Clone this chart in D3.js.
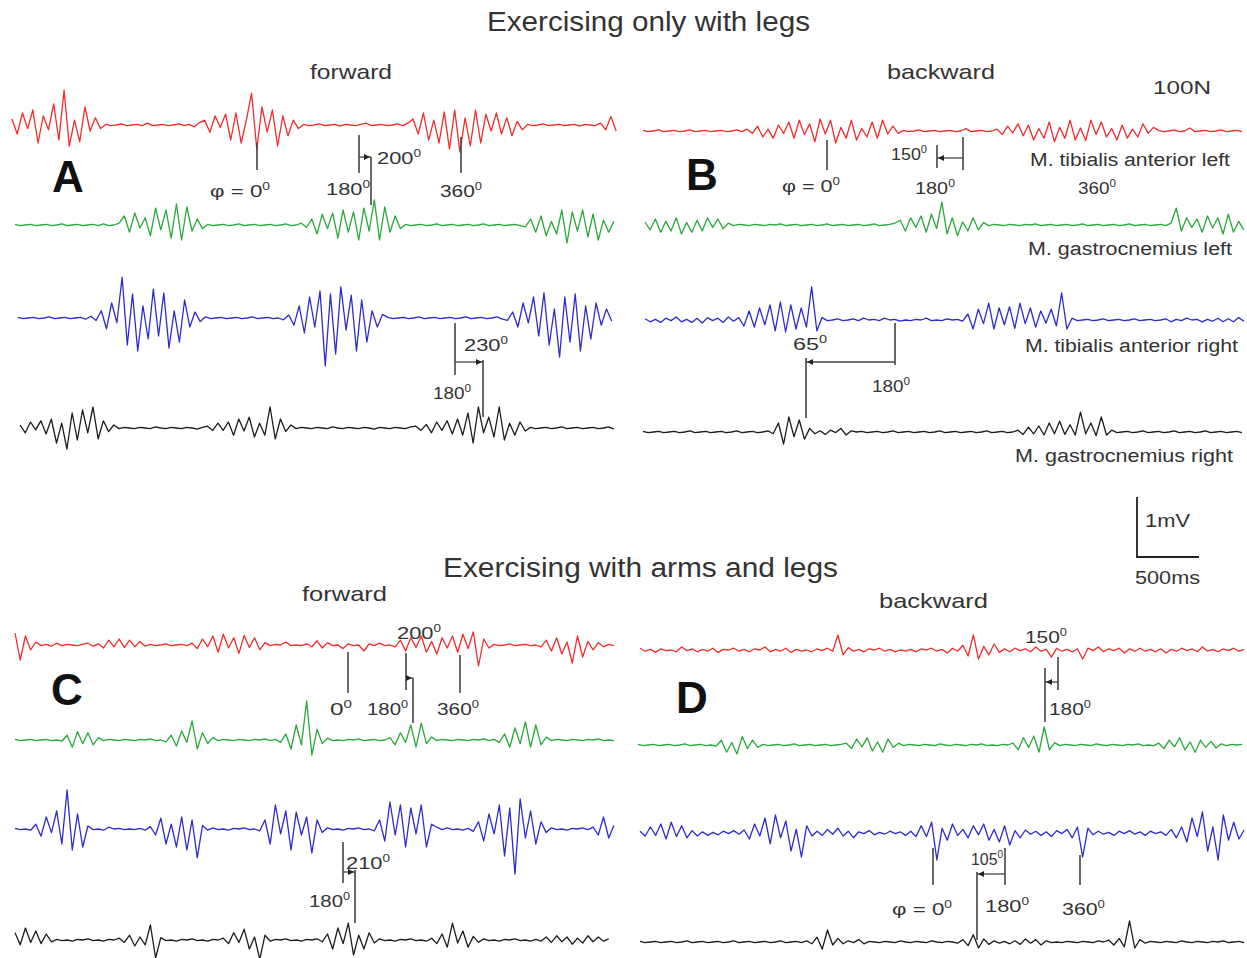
<!DOCTYPE html>
<html>
<head>
<meta charset="utf-8">
<script src="https://cdn.jsdelivr.net/npm/d3@7"></script>
<style>
  body { margin: 0; background: #fff; }
  svg { display: block; font-family: "Liberation Sans", Arial, sans-serif; }
</style>
</head>
<body>
<div id="chart"></div>
<script>
// -------- EMG data ---------- //
// amplitudes in 1/100 mV, one sample every dtMs
var dtMs = 42;

var muscles = [
  "M. tibialis anterior left",
  "M. gastrocnemius left",
  "M. tibialis anterior right",
  "M. gastrocnemius right",
];
var muscleColors = ["#f22b2b", "#28a83a", "#2b2bd0", "#1c1c1c"];

// A: legs only, forward
var legsFwdTibL = [10,-15,20,-6,25,-30,15,-8,35,-25,58,-35,8,-28,30,-10,12,-6,
  1,-1,0,2,-1,0,1,-1,3,-1,0,1,-1,0,2,-1,1,-3,4,
  8,-12,15,-4,18,-25,20,-30,8,53,-40,30,-12,25,-35,15,-18,8,-6,
  1,-1,0,2,-1,0,1,-2,1,0,-1,1,3,-1,0,1,-1,0,2,-1,3,
  10,-15,20,-25,8,-30,22,-40,25,-45,12,-35,25,-30,18,-10,20,-15,12,-18,6,-8,
  1,-1,0,2,-1,0,1,-1,0,1,-2,1,0,-1,3,-8,14,-10];
var legsFwdGasL = [1,-1,0,1,-1,0,1,-1,0,2,-1,0,1,-1,0,1,-1,2,-1,0,3,
  15,-12,20,-5,12,-18,28,-8,25,-22,35,-25,30,-10,10,-6,
  1,-1,0,1,-1,0,2,-1,0,1,-1,0,1,-1,0,2,-1,0,3,-4,
  10,-15,18,-6,20,-22,25,-12,22,-25,28,-10,42,-25,30,-12,15,-6,
  1,-1,0,1,-1,0,2,-1,0,1,-1,0,1,-1,0,2,-1,0,1,-1,0,1,-1,-3,
  10,-12,15,-18,6,-15,25,-30,22,-10,25,-20,18,-25,8,-12,6];
var legsFwdTibR = [1,-1,0,1,-1,0,2,-1,0,1,-1,0,1,-2,3,-4,
  12,-18,25,-8,68,-45,40,-55,20,-35,48,-30,42,-50,12,-40,30,-15,10,-6,
  2,-1,0,1,-1,0,1,-1,0,2,-1,0,1,-1,0,-3,5,
  -12,20,-25,35,-15,45,-80,40,-60,52,-20,38,-55,30,-40,12,-15,6,
  1,-1,0,1,-1,0,2,-1,0,1,-1,0,1,-1,0,2,-1,0,1,-1,0,2,-2,-4,
  10,-15,25,-8,35,-30,42,-45,15,-65,35,-40,40,-55,20,-35,25,-12,15,-5];
var legsFwdGasR = [5,-8,10,-3,12,-10,15,-25,8,-35,25,-20,30,-8,35,-18,12,-6,5,
  -1,1,0,-1,1,0,-1,2,0,-1,1,0,-1,1,0,-2,1,3,-4,
  8,-4,10,-12,15,-5,18,-15,8,-12,35,-18,15,-6,5,
  -1,1,0,-1,1,0,-1,2,0,-1,1,0,-1,1,0,-2,1,0,-1,1,0,-1,2,3,-4,
  6,-8,10,-4,12,-10,15,-12,25,-25,35,-8,18,-15,35,-20,8,-12,10,-5,
  1,-1,0,1,-1,0,2,-1,0,1,-1,0,1,-1,0,2,-2];

// B: legs only, backward
var legsBwdTibL = [1,-1,0,2,-1,0,1,-1,0,2,-1,0,1,-1,0,1,-1,0,2,-1,3,-4,
  8,-10,3,-12,10,-4,15,-12,18,-6,12,-18,20,-5,18,-20,6,-12,18,-15,4,-10,15,-12,18,-5,8,-4,
  1,-1,0,2,-1,0,1,-1,0,1,-1,0,4,-1,0,1,-1,0,3,
  -6,8,-3,12,-8,10,-15,4,-12,15,-18,6,-12,18,-15,5,-16,18,-6,15,-10,4,-15,10,-12,3,-10,12,-4,6,
  1,-1,0,2,-1,0,5,-1,0,1,-1,0,2,-1,0,1,-1];
var legsBwdGasL = [5,-8,10,-12,6,-10,12,-15,4,-12,8,-10,12,-4,10,-6,3,
  -1,1,0,-1,1,0,-1,1,0,2,-1,0,1,-1,0,1,-1,0,2,-1,0,1,-1,0,1,-1,0,2,-1,0,1,3,
  8,-10,12,-4,15,-12,18,-6,38,-15,12,-18,5,-10,12,-8,4,
  -1,1,0,-1,1,0,-1,1,0,2,-1,0,1,-1,0,1,-1,0,2,-1,0,1,-1,0,1,-1,0,2,-1,0,1,-1,0,1,-1,3,
  28,-10,12,-4,10,-12,15,-5,12,-15,18,-12,6,-8];
var legsBwdTibR = [2,-3,1,-4,3,-1,5,-3,1,-4,3,-5,4,-1,3,-4,5,-2,4,
  -10,15,-12,20,-8,25,-18,30,-20,25,-15,20,-12,55,-18,
  4,-1,0,2,-1,0,2,-1,3,0,1,-1,3,0,1,-2,0,-1,1,0,3,-1,0,-1,2,0,1,-2,
  10,-15,18,-6,28,-15,20,-8,22,-14,28,-6,20,-12,15,-5,18,-10,45,-15,
  3,-1,0,1,-1,0,2,-1,0,1,-1,0,2,-1,0,1,-1,0,2,-3,1,-1,3,0,1,-3,1,-2,3,-3,2,-3,4,-2];
var legsBwdGasR = [1,-1,0,1,-1,0,1,-1,0,2,-1,0,1,-1,0,1,-1,0,2,-1,0,1,-1,0,2,-3,
  15,-20,25,-8,20,-12,6,
  -3,2,-4,3,-1,6,-5,2,0,1,-1,0,1,-1,0,2,-1,0,1,-1,0,1,-1,0,2,-1,0,1,-1,0,1,-1,0,2,-1,0,1,-1,0,3,
  -4,8,-3,10,-5,15,-3,18,-4,12,-5,33,-3,15,-6,25,-5,
  3,-1,0,1,-1,0,2,-1,0,1,-1,0,2,-1,0,1,-1,0,2,-1,0,1,-1,0,1,-1];

// C: arms and legs, forward
var armsFwdTibL = [20,-25,15,-8,5,
  -1,1,-2,3,-1,1,0,-1,1,3,-2,2,
  -5,8,-3,10,-4,8,-3,6,-2,
  1,-1,0,2,-1,0,1,-1,3,
  -6,10,-3,15,-12,18,-5,12,-14,16,-4,12,-8,4,
  -1,1,0,5,-1,0,-1,2,-3,7,-5,4,-1,0,-6,2,-1,0,-10,2,-1,3,-1,0,-3,
  8,-10,12,-4,15,-12,6,-15,12,-5,15,-12,18,-6,22,
  -35,10,-5,
  1,-1,0,2,-1,0,1,-1,0,-3,
  8,-10,12,-15,5,-30,15,-20,6,-8,4,-3,
  1,-1];
var armsFwdGasL = [1,-1,0,1,-1,0,1,-1,0,-2,
  8,-12,14,-6,12,-8,4,
  -1,1,0,-1,1,0,-1,1,0,2,-1,0,-3,
  8,-10,15,-4,32,-15,12,-6,4,
  -1,1,0,-1,1,0,-1,1,0,2,-1,1,-4,
  10,-15,25,-8,65,-25,18,-6,
  3,-1,0,-1,1,0,2,-1,0,1,-1,0,4,
  -8,12,-4,25,-12,28,-6,5,
  -1,1,0,-1,1,0,-1,1,0,2,-1,1,-4,
  10,-12,20,-6,30,-12,25,-8,5,
  -1,1,0,-1,1,0,-1,1,0,2,-1,0,-1];
var armsFwdTibR = [1,-1,0,-2,
  8,-12,20,-6,30,-25,65,-35,25,-30,
  5,-1,0,-2,3,0,1,-1,0,-1,1,-2,4,
  -10,18,-25,8,-30,20,-35,15,-48,
  6,-2,2,-1,0,-2,1,0,2,-1,0,-3,
  15,-25,40,-8,30,-35,28,-10,20,-40,15,-6,
  2,-1,0,-2,1,0,2,-1,0,-3,
  15,-20,45,-10,40,-30,35,-8,40,-30,8,
  3,-1,2,-1,0,-2,1,-4,
  12,-20,25,-8,40,-45,35,-75,50,-15,30,-25,12,-6,
  2,-1,0,-2,1,0,2,-1,3,-10,20,-15,6];
var armsFwdGasR = [12,-8,20,-4,15,-6,10,-3,
  1,-1,0,-2,1,0,2,-1,0,-2,1,0,3,
  -4,8,-10,5,-8,25,-30,
  4,-1,0,-2,1,0,2,-1,0,-2,1,0,3,
  -6,12,-4,18,-15,5,-32,8,
  -2,1,0,2,-1,0,-2,1,0,2,-3,
  10,-15,20,-6,28,-25,8,-15,12,-5,
  2,-1,0,-2,1,0,2,-1,0,-2,3,
  -6,10,-12,28,-5,15,-12,6,-4,
  2,-1,0,-2,1,0,2,-1,0,-2,1,-2,
  5,-4,7,-3,5,-7,3,-5,7,-3,5,-2,2];

// D: arms and legs, backward
var armsBwdTibL = [3,-2,1,-4,2,-1,0,-3,5,-1,2,-3,1,-2,3,-4,1,0,3,-2,1,-3,2,0,5,-3,1,-2,3,-4,1,-2,0,-3,2,-1,3,-2,
  25,-8,4,
  -2,1,-3,2,0,3,-2,1,-3,0,-2,1,-3,2,0,3,-2,1,-5,3,-2,
  8,-10,25,-15,6,-8,10,-4,
  2,-3,3,-1,2,-3,5,-2,1,-12,3,-2,1,-3,2,-15,3,-1,5,-3,2,-1,3,-5,2,
  -2,3,-2,1,-3,2,-5,1,-2,3,-1,2,-3,5,-2,1,-3,2,-1,3,-2,1];
var armsBwdGasL = [1,-1,0,1,-1,0,1,-1,0,2,-1,0,1,-1,0,-2,
  8,-12,4,-15,14,-6,8,-4,
  1,-1,0,1,-1,0,2,-1,0,1,-1,0,1,-1,0,1,3,
  -6,10,-3,12,-10,5,-12,10,-4,3,
  -1,1,0,-1,1,0,-1,2,0,-1,1,0,-1,1,0,2,-1,0,-1,1,0,3,
  -8,12,-4,15,-12,30,-8,4,
  -1,1,0,-1,1,0,-1,2,0,-1,1,0,-1,1,0,2,-1,0,-1,3,
  -6,8,-3,12,-8,5,-12,8,-4,6,-5,2,
  -1,1,0,1];
var armsBwdTibR = [3,-5,10,-4,15,-10,18,-6,12,-8,4,-5,2,-4,1,-3,3,-1,4,-2,5,
  -10,15,-5,25,-18,30,-8,20,-30,6,-40,12,-5,
  3,-4,6,-2,8,-5,3,-8,2,-1,4,-3,1,-2,3,-1,2,-4,3,-6,
  12,-6,18,-45,8,-12,15,-4,6,
  -8,12,-3,15,-12,6,-15,12,-20,4,-8,5,-2,
  3,-4,2,-6,4,-1,6,-8,10,-40,8,-3,
  3,-2,1,-4,3,-1,4,-2,2,-4,3,-1,2,-4,6,-8,10,
  -15,25,-6,35,-30,10,-45,30,-12,18,-10,5];
var armsBwdGasR = [1,-1,0,1,-1,0,1,-1,0,2,-1,0,1,-1,0,1,-1,0,2,-1,0,1,-1,0,1,-1,0,2,-1,0,1,-1,2,-3,
  8,-12,20,-5,6,-3,
  2,-1,4,-3,1,0,-1,1,0,-1,2,0,-1,1,0,-1,2,0,-1,1,0,-2,4,
  -6,12,-10,5,-4,2,
  -2,1,-3,2,-4,5,-2,4,-5,2,-1,0,
  -1,1,0,-1,1,0,-1,2,0,3,-5,6,-8,35,
  -10,4,-2,1,0,-1,1,0,-1,2,0,-1,1,0,-1,1,0,2,-1,0,1,-1];

// -------- layout ---------- //
var width = 1247, height = 958;

var panels = [
  { letter: "A", lx: 52, ly: 192, x0: 12,
    rows: [{ y: 125, t0: 0, data: legsFwdTibL }, { y: 225, t0: 24, data: legsFwdGasL },
           { y: 318, t0: 48, data: legsFwdTibR }, { y: 428, t0: 65, data: legsFwdGasR }] },
  { letter: "B", lx: 686, ly: 190, x0: 643,
    rows: [{ y: 131, t0: 0, data: legsBwdTibL }, { y: 225, t0: 16, data: legsBwdGasL },
           { y: 320, t0: 16, data: legsBwdTibR }, { y: 432, t0: 0, data: legsBwdGasR }] },
  { letter: "C", lx: 51, ly: 705, x0: 15,
    rows: [{ y: 645, t0: 0, data: armsFwdTibL }, { y: 740, t0: 0, data: armsFwdGasL },
           { y: 829, t0: 0, data: armsFwdTibR }, { y: 940, t0: 0, data: armsFwdGasR }] },
  { letter: "D", lx: 676, ly: 713, x0: 640,
    rows: [{ y: 650, t0: 0, data: armsBwdTibL }, { y: 745, t0: -16, data: armsBwdGasL },
           { y: 833, t0: 0, data: armsBwdTibR }, { y: 942, t0: 0, data: armsBwdGasR }] },
];

// amplitude: 1 mV (100 units) = 60 px
var amp = d3.scaleLinear().domain([0, 100]).range([0, 60]);
// time: 500 ms = 62 px
function timeScale(x0) {
  return d3.scaleLinear().domain([0, 500]).range([x0, x0 + 62]);
}

var svg = d3
  .select("#chart")
  .append("svg")
  .attr("width", width)
  .attr("height", height);

svg.append("rect").attr("width", width).attr("height", height).attr("fill", "#fff");

// draw the traces
panels.forEach(function(p) {
  var x = timeScale(p.x0);
  var g = svg.append("g").attr("class", "panel-" + p.letter);
  p.rows.forEach(function(r, k) {
    var line = d3
      .line()
      .x((d, i) => x(r.t0 + i * dtMs))
      .y((d) => r.y - amp(d));
    g.append("path")
      .attr("d", line(r.data))
      .attr("fill", "none")
      .attr("stroke", muscleColors[k])
      .attr("stroke-width", 1.3)
      .attr("stroke-linejoin", "round");
  });
  g.append("text")
    .attr("x", p.lx)
    .attr("y", p.ly)
    .attr("font-size", 44)
    .attr("font-weight", "bold")
    .attr("fill", "#111")
    .text(p.letter);
});

// -------- annotations ---------- //
var textColor = "#333";

function label(d) {
  var t = svg
    .append("text")
    .attr("x", d.x)
    .attr("y", d.y)
    .attr("font-size", d.size || 17)
    .attr("fill", textColor);
  t.append("tspan").text(d.text);
  if (d.sup) {
    t.append("tspan")
      .attr("dy", -(d.size || 17) * 0.42)
      .attr("font-size", (d.size || 17) * 0.62)
      .text(d.sup);
  }
  if (d.w) t.attr("textLength", d.w).attr("lengthAdjust", "spacingAndGlyphs");
}

var titles = [
  { text: "Exercising only with legs", x: 487, y: 31, size: 27, w: 323 },
  { text: "forward", x: 310, y: 79, size: 21, w: 82 },
  { text: "backward", x: 887, y: 79, size: 21, w: 108 },
  { text: "100N", x: 1153, y: 94, size: 19, w: 58 },
  { text: "Exercising with arms and legs", x: 443, y: 577, size: 27, w: 395 },
  { text: "forward", x: 302, y: 601, size: 21, w: 85 },
  { text: "backward", x: 879, y: 608, size: 21, w: 109 },
];

var muscleLabels = [
  { x: 1030, y: 166, w: 200 },
  { x: 1028, y: 255, w: 204 },
  { x: 1025, y: 352, w: 213 },
  { x: 1015, y: 462, w: 218 },
];

var phaseLabels = [
  // A
  { text: "φ = 0", sup: "0", x: 210, y: 197, w: 60 },
  { text: "180", sup: "0", x: 326, y: 195, w: 44 },
  { text: "200", sup: "0", x: 377, y: 164, w: 44 },
  { text: "360", sup: "0", x: 440, y: 197, w: 42 },
  { text: "230", sup: "0", x: 464, y: 351, w: 44 },
  { text: "180", sup: "0", x: 433, y: 399, w: 38 },
  // B
  { text: "φ = 0", sup: "0", x: 782, y: 192, w: 58 },
  { text: "150", sup: "0", x: 891, y: 160, w: 36 },
  { text: "180", sup: "0", x: 915, y: 194, w: 40 },
  { text: "360", sup: "0", x: 1078, y: 194, w: 38 },
  { text: "65", sup: "0", x: 793, y: 350, w: 34 },
  { text: "180", sup: "0", x: 872, y: 392, w: 38 },
  // C
  { text: "200", sup: "0", x: 397, y: 639, w: 44 },
  { text: "0", sup: "0", x: 330, y: 715, w: 22 },
  { text: "180", sup: "0", x: 367, y: 715, w: 41 },
  { text: "360", sup: "0", x: 437, y: 715, w: 42 },
  { text: "210", sup: "0", x: 346, y: 869, w: 44 },
  { text: "180", sup: "0", x: 309, y: 907, w: 41 },
  // D
  { text: "150", sup: "0", x: 1025, y: 643, w: 42 },
  { text: "180", sup: "0", x: 1049, y: 715, w: 42 },
  { text: "φ = 0", sup: "0", x: 892, y: 915, w: 60 },
  { text: "105", sup: "0", x: 971, y: 865, w: 32 },
  { text: "180", sup: "0", x: 985, y: 912, w: 44 },
  { text: "360", sup: "0", x: 1062, y: 915, w: 43 },
];

// vertical phase lines [x, y1, y2]
var phaseLines = [
  [257, 143, 170], [359, 135, 173], [371, 157, 205], [461, 137, 173],
  [455, 323, 375], [483, 360, 417],
  [827, 140, 170], [937, 145, 168], [963, 137, 170],
  [895, 323, 365], [806, 358, 418],
  [348, 652, 693], [406, 653, 690], [413, 678, 723], [460, 655, 693],
  [343, 842, 883], [355, 870, 923],
  [1058, 657, 690], [1045, 668, 722],
  [933, 848, 885], [1005, 848, 885], [977, 872, 940], [1080, 855, 885],
];

// phase shift arrows [y, from, to]
var phaseArrows = [
  [157, 359, 371], [362, 455, 483],
  [158, 963, 937], [362, 895, 806],
  [678, 406, 413], [872, 343, 355],
  [682, 1058, 1045], [874, 1005, 977],
];

titles.forEach(label);
muscleLabels.forEach(function(d, i) {
  label({ text: muscles[i], x: d.x, y: d.y, w: d.w, size: 18 });
});
phaseLabels.forEach(label);

svg
  .append("g")
  .selectAll("line")
  .data(phaseLines)
  .join("line")
  .attr("x1", (d) => d[0])
  .attr("x2", (d) => d[0])
  .attr("y1", (d) => d[1])
  .attr("y2", (d) => d[2])
  .attr("stroke", "#444")
  .attr("stroke-width", 1.6);

var arrows = svg.append("g");
phaseArrows.forEach(function(d) {
  var dir = d[2] > d[1] ? 1 : -1;
  arrows
    .append("line")
    .attr("x1", d[1])
    .attr("x2", d[2])
    .attr("y1", d[0])
    .attr("y2", d[0])
    .attr("stroke", "#444")
    .attr("stroke-width", 1.3);
  var tip = d[2] - dir * 1;
  arrows
    .append("path")
    .attr(
      "d",
      "M" + tip + "," + d[0] +
        "L" + (tip - dir * 6) + "," + (d[0] - 3) +
        "L" + (tip - dir * 6) + "," + (d[0] + 3) + "Z"
    )
    .attr("fill", "#222");
});

// -------- scale bar ---------- //
var sb = { x: 1137, y: 557 };
var sbTime = timeScale(sb.x);
svg
  .append("path")
  .attr(
    "d",
    "M" + sb.x + "," + (sb.y - amp(100)) +
      "L" + sb.x + "," + sb.y +
      "L" + sbTime(500) + "," + sb.y
  )
  .attr("fill", "none")
  .attr("stroke", "#222")
  .attr("stroke-width", 1.8);
label({ text: "1mV", x: 1145, y: 527, size: 18, w: 45 });
label({ text: "500ms", x: 1135, y: 584, size: 18, w: 65 });
</script>
</body>
</html>
